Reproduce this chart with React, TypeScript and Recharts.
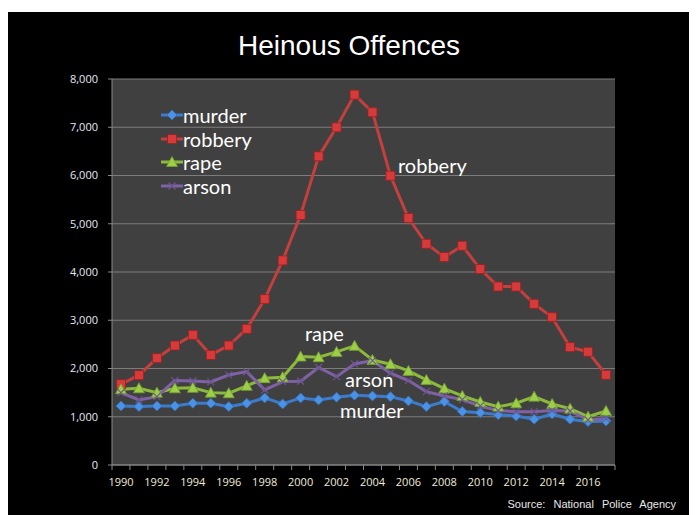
import React from 'react';
import {
  LineChart,
  Line,
  XAxis,
  YAxis,
  CartesianGrid,
  Legend,
} from 'recharts';

const years = [
  1990, 1991, 1992, 1993, 1994, 1995, 1996, 1997, 1998, 1999, 2000, 2001, 2002, 2003,
  2004, 2005, 2006, 2007, 2008, 2009, 2010, 2011, 2012, 2013, 2014, 2015, 2016, 2017,
];

const murder = [
  1224, 1210, 1224, 1224, 1280, 1280, 1210, 1280, 1390, 1265, 1390, 1349, 1404, 1446,
  1431, 1417, 1328, 1210, 1314, 1110, 1085, 1044, 1017, 948, 1058, 948, 899, 913,
];
const robbery = [
  1674, 1861, 2214, 2476, 2697, 2282, 2476, 2822, 3437, 4240, 5180, 6397, 6998, 7676,
  7310, 5996, 5118, 4585, 4309, 4544, 4060, 3699, 3699, 3340, 3064, 2442, 2347, 1870,
];
const rape = [
  1570, 1590, 1500, 1590, 1600, 1500, 1487, 1640, 1800, 1820, 2247, 2234, 2344, 2469,
  2178, 2089, 1950, 1763, 1583, 1431, 1307, 1210, 1280, 1417, 1265, 1168, 1002, 1120,
];
const arson = [
  1500, 1350, 1417, 1750, 1740, 1722, 1867, 1936, 1556, 1728, 1735, 2020, 1832, 2095,
  2164, 1902, 1750, 1521, 1431, 1355, 1224, 1127, 1106, 1106, 1127, 1120, 934, 961,
];

const yTicks = [0, 1000, 2000, 3000, 4000, 5000, 6000, 7000, 8000];

const data = years.map((y, i) => ({
  year: String(y),
  murder: murder[i],
  robbery: robbery[i],
  rape: rape[i],
  arson: arson[i],
}));

const W = 682;
const H = 503;
const MARGIN = { top: 67, right: 75, bottom: 20, left: 0 };
const Y_AXIS_W = 104;
const BAND = (W - MARGIN.left - MARGIN.right - Y_AXIS_W) / years.length;

// legend order follows the original, not alphabetical
const SERIES = [
  { key: 'murder', line: '#3d7ccc', mark: '#4b92e4', shape: 'diamond' },
  { key: 'robbery', line: '#c43f3d', mark: '#d63a3a', shape: 'square' },
  { key: 'rape', line: '#8dba3d', mark: '#9cce48', shape: 'triangle' },
  { key: 'arson', line: '#7f62a6', mark: '#6e5590', shape: 'cross' },
];

function Marker({ cx, cy, shape, color }: any) {
  if (cx == null || cy == null) return null;
  if (shape === 'diamond') {
    const r = 5;
    return (
      <polygon
        points={`${cx},${cy - r} ${cx + r},${cy} ${cx},${cy + r} ${cx - r},${cy}`}
        fill={color}
        stroke="#2f6fbf"
        strokeWidth={0.8}
      />
    );
  }
  if (shape === 'square') {
    return (
      <rect x={cx - 4.5} y={cy - 4.5} width={9} height={9} fill={color} stroke="#9a2222" strokeWidth={0.8} />
    );
  }
  if (shape === 'triangle') {
    return (
      <polygon
        points={`${cx},${cy - 5.5} ${cx + 5.5},${cy + 4.5} ${cx - 5.5},${cy + 4.5}`}
        fill={color}
        stroke="#74a032"
        strokeWidth={0.8}
      />
    );
  }
  const r = 3.5;
  return (
    <g stroke={color} strokeWidth={1.2}>
      <line x1={cx - r} y1={cy - r} x2={cx + r} y2={cy + r} />
      <line x1={cx - r} y1={cy + r} x2={cx + r} y2={cy - r} />
    </g>
  );
}

function YearTick(props: any) {
  const { x, y, payload, index, visibleTicksCount } = props;
  const yr = Number(payload.value);
  const left = x - BAND / 2;
  return (
    <g>
      <line x1={left} y1={y} x2={left} y2={y + 5} stroke="#8a8a8a" />
      {index === visibleTicksCount - 1 && (
        <line x1={x + BAND / 2} y1={y} x2={x + BAND / 2} y2={y + 5} stroke="#8a8a8a" />
      )}
      {yr % 2 === 0 && (
        <text
          x={x}
          y={y + 16}
          textAnchor="middle"
          dominantBaseline="central"
          fill="#f1ecd9"
          fontSize={11}
          fontFamily="'Open Sans', sans-serif"
        >
          {payload.value}
        </text>
      )}
    </g>
  );
}

function LegendBox() {
  return (
    <div>
      {SERIES.map((s) => (
        <div key={s.key} style={{ display: 'flex', alignItems: 'center', height: 23.7 }}>
          <svg width={22} height={14} style={{ marginRight: 0 }}>
            <line x1={0} y1={7} x2={22} y2={7} stroke={s.line} strokeWidth={3} />
            <Marker cx={11} cy={7} shape={s.shape} color={s.mark} />
          </svg>
          <span style={{ color: '#ffffff', fontSize: 20, fontFamily: 'Lato, sans-serif', lineHeight: '22px' }}>
            {s.key}
          </span>
        </div>
      ))}
    </div>
  );
}

const seriesLabels = [
  { text: 'robbery', left: 390, top: 141 },
  { text: 'rape', left: 297, top: 309 },
  { text: 'arson', left: 337, top: 355 },
  { text: 'murder', left: 332, top: 386 },
];

export default function App() {
  return (
    <div style={{ position: 'relative', height: 507 }}>
      <div
        style={{
          position: 'absolute',
          left: 0,
          top: 4,
          width: W,
          height: H,
          background: '#000000',
        }}
      >
        <div
          style={{
            position: 'absolute',
            left: 0,
            width: W,
            top: 17,
            textAlign: 'center',
            color: '#ffffff',
            fontSize: 28,
            fontFamily: "'Liberation Sans', Arial, sans-serif",
            lineHeight: '34px',
          }}
        >
          Heinous Offences
        </div>
        <LineChart width={W} height={H} data={data} margin={MARGIN}>
          <CartesianGrid vertical={false} stroke="#7c7c7c" fill="#404040" fillOpacity={1} />
          <XAxis
            dataKey="year"
            scale="band"
            interval={0}
            tickSize={0}
            tickMargin={0}
            tickLine={false}
            axisLine={{ stroke: '#8a8a8a' }}
            height={30}
            tick={<YearTick />}
          />
          <YAxis
            width={Y_AXIS_W}
            domain={[0, 8000]}
            ticks={yTicks}
            interval={0}
            tickSize={4}
            tickMargin={10}
            tickLine={{ stroke: '#8a8a8a' }}
            axisLine={{ stroke: '#8a8a8a' }}
            tickFormatter={(v: number) => v.toLocaleString('en-US')}
            tick={{ fill: '#e4eaf3', fontSize: 11, fontFamily: "'Open Sans', sans-serif" }}
          />
          <Legend
            layout="vertical"
            align="center"
            verticalAlign="middle"
            wrapperStyle={{ left: 153, top: 91, width: 130 }}
            content={<LegendBox />}
          />
          {SERIES.map((s) => (
            <Line
              key={s.key}
              type="linear"
              dataKey={s.key}
              name={s.key}
              stroke={s.line}
              strokeWidth={3}
              isAnimationActive={false}
              dot={(p: any) => <Marker key={`${s.key}-${p.index}`} cx={p.cx} cy={p.cy} shape={s.shape} color={s.mark} />}
              activeDot={false}
            />
          ))}
        </LineChart>
        {seriesLabels.map((l) => (
          <div
            key={l.text}
            style={{
              position: 'absolute',
              left: l.left,
              top: l.top,
              color: '#ffffff',
              fontSize: 20,
              fontFamily: 'Lato, sans-serif',
              lineHeight: '24px',
            }}
          >
            {l.text}
          </div>
        ))}
        <div
          style={{
            position: 'absolute',
            right: 14,
            top: 486,
            color: '#e8e8e8',
            fontSize: 11,
            fontFamily: "'Liberation Sans', Arial, sans-serif",
            wordSpacing: 5,
          }}
        >
          Source: National Police Agency
        </div>
      </div>
    </div>
  );
}
